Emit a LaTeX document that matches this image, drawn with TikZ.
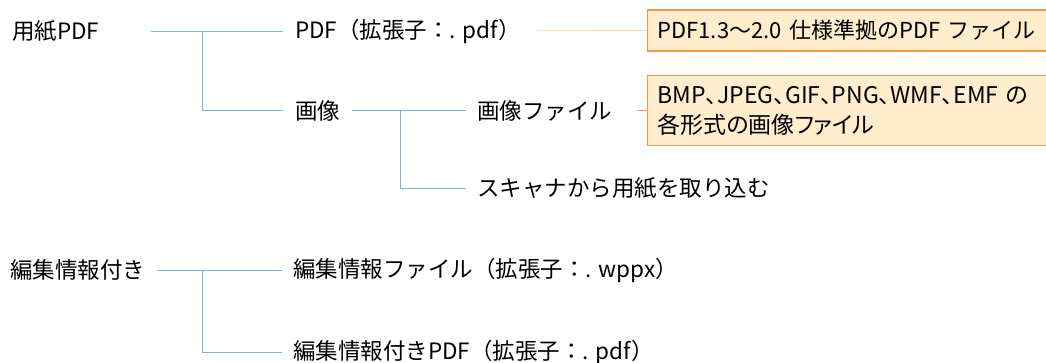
\documentclass[tikz,border=0pt]{standalone}
\usepackage{fontspec}
\newfontfamily\jpfont{Noto Sans CJK JP}
\newfontfamily\jpbox[RawFeature=+palt]{Noto Sans CJK JP}
\usetikzlibrary{calc,positioning}
\definecolor{treeblue}{RGB}{127,178,226}
\definecolor{noteline}{RGB}{247,150,70}
\definecolor{notefill}{RGB}{254,238,206}
\tikzstyle{item}=[anchor=west, inner sep=0pt, font=\jpfont\fontsize{22.5}{30}\selectfont]

\begin{document}
\begin{tikzpicture}[x=1pt,y=-1pt,tree/.style={treeblue,line width=0.8pt},link/.style={noteline,line width=0.8pt},note/.style={draw=noteline,fill=notefill,line width=1.1pt,inner xsep=10pt,text width=420pt,align=left,font=\jpfont\fontsize{22}{30}\selectfont}]
\useasboundingbox (0,0) rectangle (1046,363);
\node (paper) at (12,31)[item] {用紙PDF};
\node (pdfext) at (295,31)[item] {PDF（拡張子：. pdf）};
\node (image) at (295,110.5)[item] {画像};
\node (imgfile) at (477,110.5)[item] {画像ファイル};
\node (scan) at (477,188)[item] {スキャナから用紙を取り込む};
\node (edit) at (10,270)[item] {編集情報付き};
\node (wppx) at (293,270)[item] {編集情報ファイル（拡張子：. wppx）};
\node (editpdf) at (293,352)[item] {編集情報付きPDF（拡張子：. pdf）};
\node (spec) at (647,30.5)[note,anchor=west,minimum height=41pt] {PDF1.3〜2.0 仕様準拠のPDF ファイル};
\node (formats) at (647,75)[note,anchor=north west,minimum height=70pt,font=\jpbox\fontsize{23}{30}\selectfont] {BMP、JPEG、GIF、PNG、WMF、EMF の\\各形式の画像ファイル};
\coordinate (j1) at (202,31);
\coordinate (j2) at (400,110.5);
\coordinate (j3) at (202,270);
\draw[tree] ([xshift=51pt]paper.east) -- ([xshift=-12pt]pdfext.west);
\draw[tree] (j1) |- ([xshift=-12pt]image.west);
\draw[tree] ([xshift=12pt]image.east) -- ([xshift=-11pt]imgfile.west);
\draw[tree] (j2) |- ([xshift=-11pt]scan.west);
\draw[tree] ([xshift=12pt]edit.east) -- ([xshift=-11pt]wppx.west);
\draw[tree] (j3) |- ([xshift=-11pt]editpdf.west);
\draw[link,opacity=0.7,line width=0.5pt] ([xshift=16pt]pdfext.east) -- (spec.west);
\draw[link] ([xshift=25pt]imgfile.east) -- (formats.west);
\end{tikzpicture}
\end{document}
